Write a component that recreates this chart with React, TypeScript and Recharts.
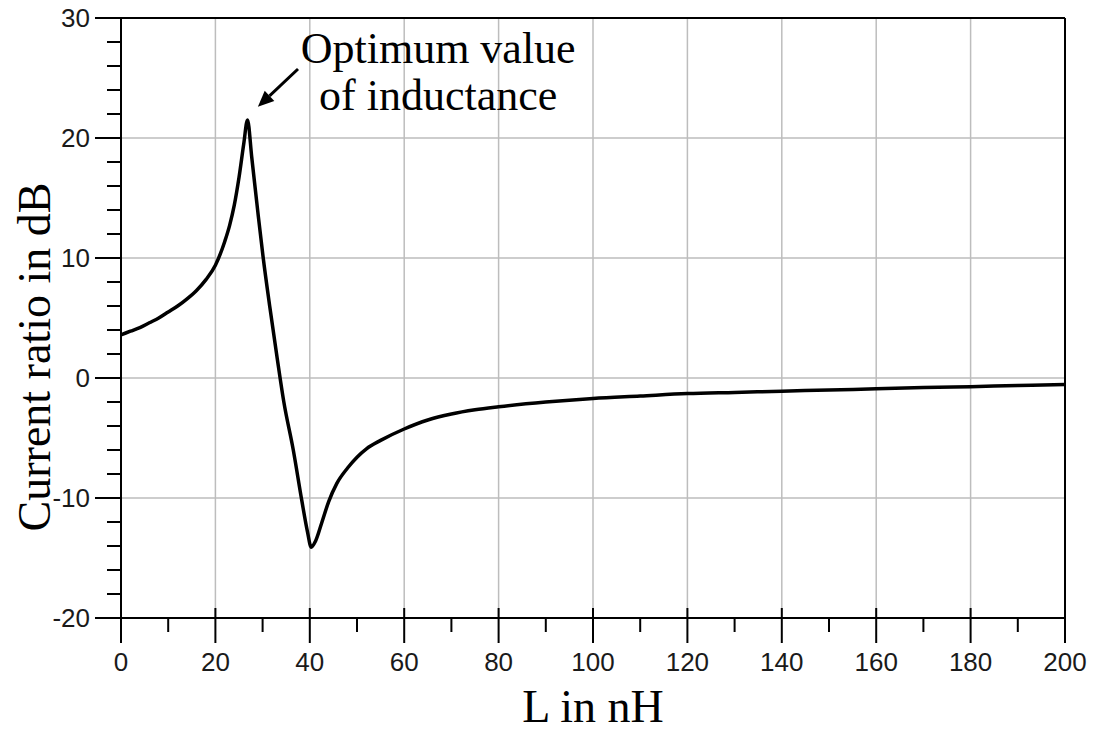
import React from "react";
import {
  LineChart,
  Line,
  XAxis,
  YAxis,
  ReferenceLine,
  ReferenceDot,
} from "recharts";

// inductance L (nH) and current ratio (dB)
const inductance = [
  0, 2, 4, 6, 8, 10, 12, 14, 16, 18, 20, 22, 23, 24, 25, 26, 26.8, 27.7, 29,
  30.1, 31.5, 33, 34.5, 36.5, 38.3, 39.5, 40.3, 41.2, 42.5, 44, 45.7, 48, 50,
  52, 55, 60, 65, 70, 75, 80, 90, 100, 110, 120, 130, 140, 150, 160, 170, 180,
  190, 200,
];
const currentRatio = [
  3.6, 3.9, 4.2, 4.6, 5.0, 5.5, 6.0, 6.6, 7.3, 8.2, 9.4, 11.4, 12.7, 14.4,
  16.7, 19.5, 21.5, 18.4, 13.8, 10.1, 6.0, 1.9, -2.0, -6.0, -10.2, -12.8,
  -14.1, -13.6, -12.1, -10.3, -8.8, -7.5, -6.6, -5.9, -5.2, -4.25, -3.5, -3.0,
  -2.65, -2.4, -2.0, -1.7, -1.5, -1.3, -1.2, -1.1, -1.0, -0.9, -0.8, -0.72,
  -0.63, -0.55,
];

const xTicks = [
  0, 10, 20, 30, 40, 50, 60, 70, 80, 90, 100, 110, 120, 130, 140, 150, 160,
  170, 180, 190, 200,
];
const yTicks = [
  -20, -18, -16, -14, -12, -10, -8, -6, -4, -2, 0, 2, 4, 6, 8, 10, 12, 14, 16,
  18, 20, 22, 24, 26, 28, 30,
];
const xGrid = [20, 40, 60, 80, 100, 120, 140, 160, 180];
const yGrid = [-10, 0, 10, 20];

const data = inductance.map((l, i) => ({ l, db: currentRatio[i] }));

const SANS = "'Liberation Sans', Arial, sans-serif";
const SERIF = "'Liberation Serif', 'Times New Roman', serif";

const YTick = (props: any) => {
  const { x, y, payload } = props;
  const major = payload.value % 10 === 0;
  return (
    <g>
      <line
        x1={x - (major ? 26 : 14)}
        x2={x}
        y1={y}
        y2={y}
        stroke="#000"
        strokeWidth={2}
      />
      {major && (
        <text
          x={x - 31}
          y={y}
          textAnchor="end"
          dominantBaseline="central"
          fontFamily={SANS}
          fontSize={26}
          fill="#1a1a1a"
        >
          {payload.value}
        </text>
      )}
    </g>
  );
};

const XTick = (props: any) => {
  const { x, y, payload } = props;
  const major = payload.value % 20 === 0;
  return (
    <g>
      <line
        x1={x}
        x2={x}
        y1={major ? y - 10 : y}
        y2={y + (major ? 25 : 14)}
        stroke="#000"
        strokeWidth={2}
      />
      {major && (
        <text
          x={x}
          y={y + 44}
          textAnchor="middle"
          dominantBaseline="central"
          fontFamily={SANS}
          fontSize={26}
          fill="#1a1a1a"
        >
          {payload.value}
        </text>
      )}
    </g>
  );
};

const YTitle = (props: any) => {
  const { viewBox } = props;
  const cx = viewBox.x + 50;
  const cy = viewBox.y + viewBox.height / 2 + 39;
  return (
    <text
      x={cx}
      y={cy}
      transform={`rotate(-90 ${cx} ${cy})`}
      textAnchor="middle"
      fontFamily={SERIF}
      fontSize={46}
      fill="#000"
    >
      Current ratio in dB
    </text>
  );
};

const Arrow = (props: any) => {
  const { x1, y1, x2, y2 } = props;
  const ang = Math.atan2(y2 - y1, x2 - x1);
  const len = 16;
  const w = 7;
  const bx = x2 - len * Math.cos(ang);
  const by = y2 - len * Math.sin(ang);
  const px = -Math.sin(ang) * w;
  const py = Math.cos(ang) * w;
  return (
    <g>
      <line x1={x1} y1={y1} x2={bx} y2={by} stroke="#000" strokeWidth={3} />
      <polygon
        points={`${x2},${y2} ${bx + px},${by + py} ${bx - px},${by - py}`}
        fill="#000"
      />
    </g>
  );
};

const Note = (props: any) => {
  const { cx, cy } = props;
  return (
    <g fontFamily={SERIF} fontSize={44} fill="#000">
      <text x={cx} y={cy} textAnchor="middle">
        Optimum value
      </text>
      <text x={cx} y={cy + 47} textAnchor="middle">
        of inductance
      </text>
    </g>
  );
};

export default function App() {
  return (
    <div style={{ position: "absolute", left: 0, top: 0, background: "#fff" }}>
      <LineChart
        width={1094}
        height={734}
        data={data}
        margin={{ top: 18, right: 29, left: 0, bottom: 0 }}
      >
        <XAxis
          dataKey="l"
          type="number"
          domain={[0, 200]}
          ticks={xTicks}
          interval={0}
          height={116}
          tickSize={0}
          tickMargin={0}
          tickLine={false}
          tick={<XTick />}
          axisLine={{ stroke: "#000", strokeWidth: 2 }}
          label={{
            value: "L in nH",
            position: "insideBottom",
            offset: 12,
            fontFamily: SERIF,
            fontSize: 46,
            fill: "#000",
          }}
        />
        <YAxis
          type="number"
          domain={[-20, 30]}
          ticks={yTicks}
          interval={0}
          width={121}
          tickSize={0}
          tickMargin={0}
          tickLine={false}
          tick={<YTick />}
          axisLine={{ stroke: "#000", strokeWidth: 2 }}
          label={{ content: <YTitle /> }}
        />
        {xGrid.map((v) => (
          <ReferenceLine key={`gx${v}`} x={v} stroke="#bdbdbd" strokeWidth={1.5} />
        ))}
        {yGrid.map((v) => (
          <ReferenceLine key={`gy${v}`} y={v} stroke="#bdbdbd" strokeWidth={1.5} />
        ))}
        <ReferenceLine y={30} stroke="#000" strokeWidth={2} />
        <ReferenceLine x={200} stroke="#000" strokeWidth={2} />
        <ReferenceLine
          segment={[
            { x: 37.5, y: 25.75 },
            { x: 29, y: 22.6 },
          ]}
          shape={<Arrow />}
        />
        <ReferenceDot x={67.2} y={26.25} r={0} shape={<Note />} />
        <Line
          dataKey="db"
          type="monotone"
          stroke="#000"
          strokeWidth={3.5}
          dot={false}
          isAnimationActive={false}
        />
      </LineChart>
    </div>
  );
}
